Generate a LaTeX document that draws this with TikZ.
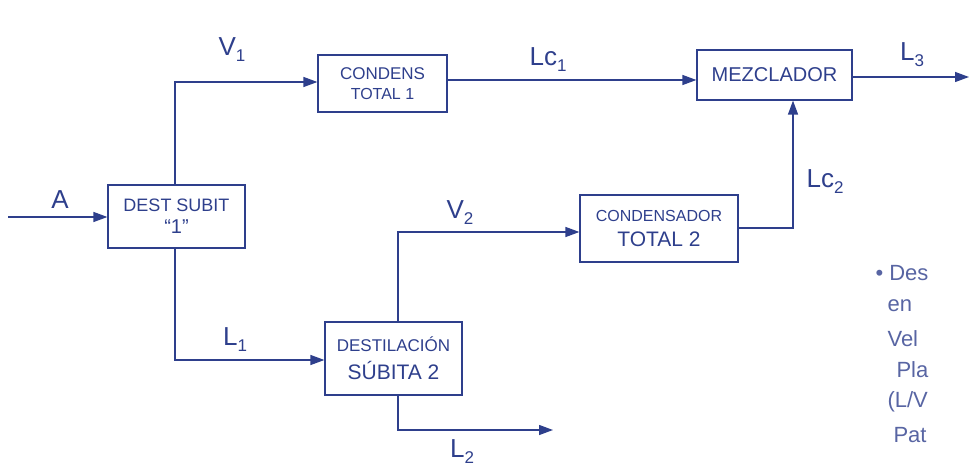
\documentclass[tikz,border=0pt]{standalone}
\usepackage{fontspec}
\setmainfont{Liberation Sans}
\usetikzlibrary{arrows.meta}
\definecolor{ink}{HTML}{2E3F8C}
\newcommand{\sbs}[1]{\raisebox{-6pt}{\fontsize{17}{17}\selectfont #1}}
\newcommand{\fs}[1]{\fontsize{#1}{#1}\selectfont}
\begin{document}
\begin{tikzpicture}[x=1pt,y=-1pt,
  every node/.style={text=ink},
  blk/.style={draw=ink,line width=1.2pt,inner sep=0pt,align=center},
  flow/.style={draw=ink,line width=1.3pt},
  arr/.style={flow,-{Triangle[length=14pt,width=10pt]}},
  lab/.style={font=\fontsize{26}{28}\selectfont},
  note/.style={font=\fontsize{22}{22}\selectfont,anchor=west,text=ink!80}]
\useasboundingbox (0,0) rectangle (969,473);
% boxes
\node[blk,minimum width=137pt,minimum height=63pt] (d1) at (176.5,216.5) {\fs{18}DEST SUBIT\\[7pt]\fs{20}``1''};
\node[blk,minimum width=129pt,minimum height=57pt] (c1) at (382.5,83.5) {\fs{17}CONDENS\\[8pt]\fs{16}TOTAL 1};
\node[blk,minimum width=155pt,minimum height=50pt] (mz) at (774.5,75) {\fs{20}MEZCLADOR};
\node[blk,minimum width=158pt,minimum height=67pt] (c2) at (659,228.5) {\fs{16}CONDENSADOR\\[9pt]\fs{21}TOTAL 2};
\node[blk,minimum width=137pt,minimum height=73pt] (d2) at (393.5,358.5) {\fs{17}DESTILACIÓN\\[9pt]\fs{21}SÚBITA 2};
% coordinates
\coordinate (ain) at (8,217);
\coordinate (v1c) at (175,82);
\coordinate (l1c) at (175,360);
\coordinate (v2c) at (398,232);
\coordinate (l2c) at (398,430);
\coordinate (l2e) at (553,430);
\coordinate (lc2c) at (793,228);
\coordinate (l3e) at (969,77);
% connectors
\draw[arr] (ain) -- (d1.west |- ain);
\draw[arr] (d1.north -| v1c) -- (v1c) -- (c1.west |- v1c);
\draw[arr] (c1.east |- 0,80) -- (mz.west |- 0,80);
\draw[arr] (mz.east |- l3e) -- (l3e);
\draw[arr] (d1.south -| l1c) -- (l1c) -- (d2.west |- l1c);
\draw[arr] (d2.north -| v2c) -- (v2c) -- (c2.west |- v2c);
\draw[arr] (c2.east |- lc2c) -- (lc2c) -- (mz.south -| lc2c);
\draw[arr] (d2.south -| l2c) -- (l2c) -- (l2e);
% labels
\node[lab] (la) at (60,200) {A};
\node[lab] (lv1) at (232,50) {V\sbs{1}};
\node[lab] (llc1) at (548,60) {Lc\sbs{1}};
\node[lab] (ll3) at (912,55) {L\sbs{3}};
\node[lab] (llc2) at (825,182) {Lc\sbs{2}};
\node[lab] (lv2) at (460,213) {V\sbs{2}};
\node[lab] (ll1) at (235,340) {L\sbs{1}};
\node[lab] (ll2) at (462,452) {L\sbs{2}};
% cut-off notes at right
\node[note] (n1) at (872,273) {• Des};
\node[note] (n2) at (884,306) {en};
\node[note] (n3) at (884,339) {Vel};
\node[note] (n4) at (893,370) {Pla};
\node[note] (n5) at (884,402) {(L/V};
\node[note] (n6) at (890,435) {Pat};
\end{tikzpicture}
\end{document}
